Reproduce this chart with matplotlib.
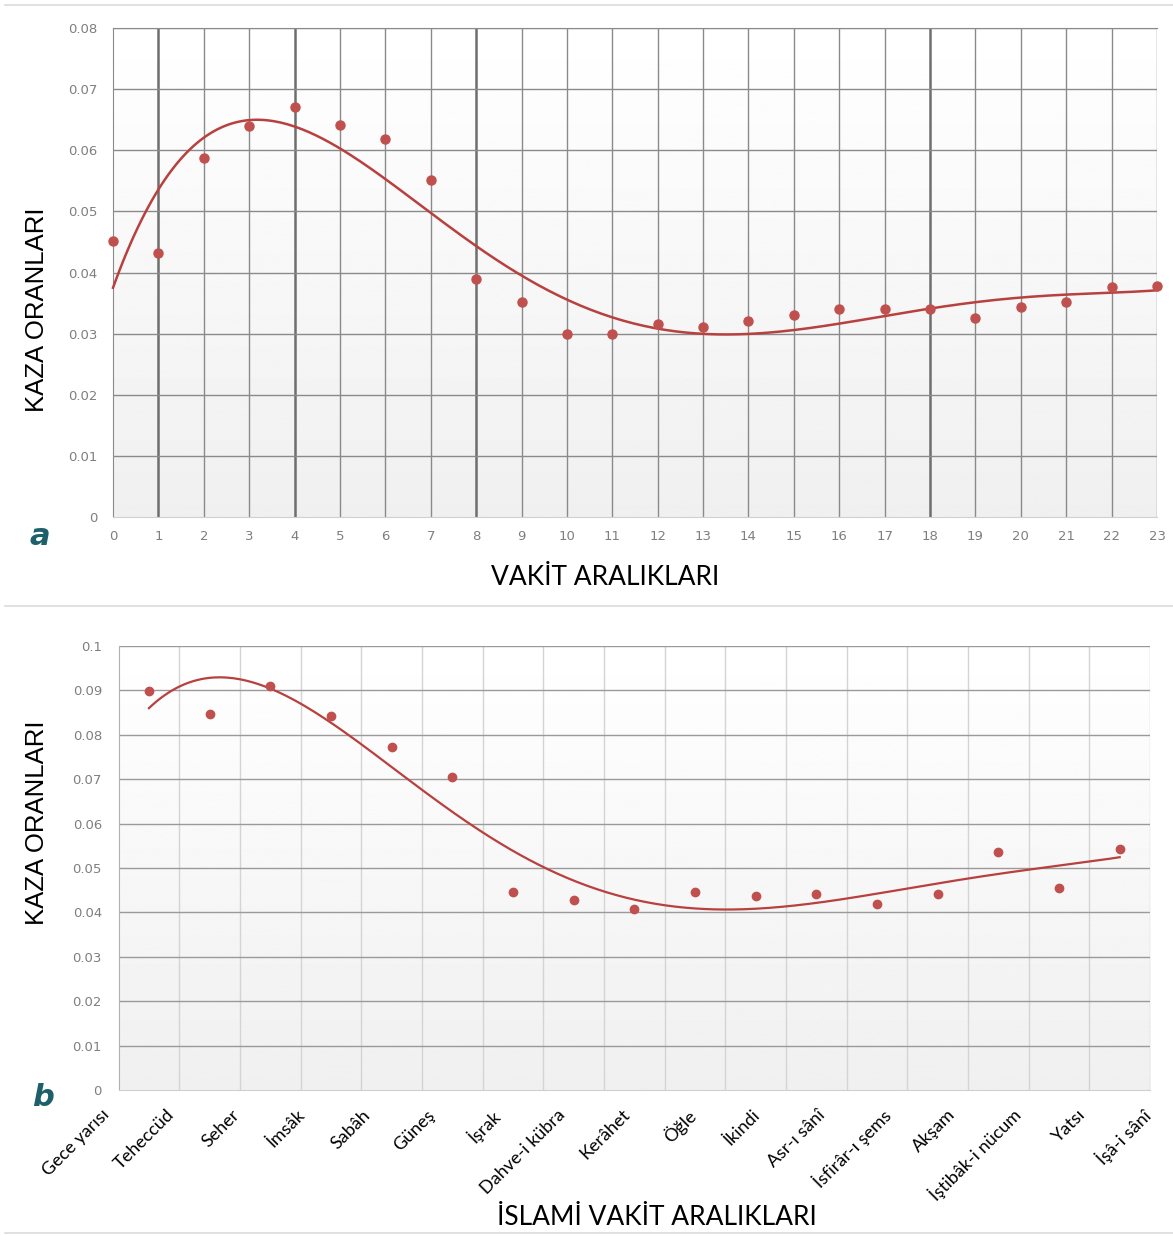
import matplotlib
matplotlib.use("Agg")
import matplotlib.pyplot as plt
import matplotlib.transforms as mtransforms
from matplotlib.lines import Line2D
import numpy as np

# panel a: hourly intervals
hours = list(range(24))
rates_a = [0.0451, 0.0432, 0.0587, 0.0640, 0.0671, 0.0641, 0.0618, 0.0551,
           0.0389, 0.0352, 0.0299, 0.0299, 0.0316, 0.0311, 0.0321, 0.0330,
           0.0340, 0.0340, 0.0340, 0.0326, 0.0344, 0.0352, 0.0377, 0.0378]
yticks_a = [0, 0.01, 0.02, 0.03, 0.04, 0.05, 0.06, 0.07, 0.08]
dark_hours = [1, 4, 8, 18]

# panel b: islamic time intervals
vakit = ['Gece yarısı', 'Teheccüd', 'Seher', 'İmsâk', 'Sabâh', 'Güneş', 'İşrak',
         'Dahve-i kübra', 'Kerâhet', 'Öğle', 'İkindi', 'Asr-ı sânî',
         'İsfirâr-ı şems', 'Akşam', 'İştibâk-i nücum', 'Yatsı', 'İşâ-i sânî']
rates_b = [0.0899, 0.0847, 0.0910, 0.0842, 0.0773, 0.0705, 0.0445, 0.0428,
           0.0407, 0.0445, 0.0438, 0.0441, 0.0420, 0.0441, 0.0535, 0.0456,
           0.0543]
yticks_b = [0, 0.01, 0.02, 0.03, 0.04, 0.05, 0.06, 0.07, 0.08, 0.09, 0.1]

RED = '#c0504d'
TREND = '#b8403e'
TEAL = '#1d5f6a'
TICK_GREY = '#7f7f7f'


def fmt(v):
    s = ('%.2f' % v).rstrip('0').rstrip('.')
    return s


def gradient_bg(ax):
    grad = np.linspace(0.94, 1.0, 256).reshape(-1, 1)
    ax.imshow(grad, extent=[0, 1, 0, 1], transform=ax.transAxes,
              cmap='gray', vmin=0, vmax=1, aspect='auto', zorder=0,
              origin='lower')


def trend(x, y, deg, n=300):
    # polynomial trendline (5th order, like the spreadsheet one)
    c = np.polyfit(x, y, deg)
    xs = np.linspace(min(x), max(x), n)
    return xs, np.polyval(c, xs)


fig = plt.figure(figsize=(11.73, 12.36), dpi=100)

# separators
for yy in [1 - 5 / 1236, 1 - 606 / 1236, 1 - 1233 / 1236]:
    fig.add_artist(Line2D([0.004, 1.0], [yy, yy], transform=fig.transFigure,
                          color='#dcdcdc', lw=1.2))

# ---------------- panel a ----------------
ax1 = fig.add_axes([113 / 1173, 1 - 517 / 1236, 1044 / 1173, 489 / 1236])
gradient_bg(ax1)
ax1.set_xlim(0, 23)
ax1.set_ylim(0, 0.08)
for h in hours:
    if h == 0 or h == 23:
        continue
    if h in dark_hours:
        ax1.axvline(h, color='#6e6e6e', lw=1.8, zorder=1)
    else:
        ax1.axvline(h, color='#8a8a8a', lw=1.0, zorder=1)
for v in yticks_a[1:]:
    ax1.axhline(v, color='#8a8a8a', lw=1.0, zorder=1)
ax1.axvline(23, color='#8a8a8a', lw=1.0, zorder=1)

xs, ys = trend(hours, rates_a, 5)
ax1.plot(xs, ys, color=TREND, lw=1.8, zorder=3, clip_on=False)
ax1.plot(hours, rates_a, 'o', color=RED, ms=6.5, zorder=4, clip_on=False)

ax1.set_xticks(hours)
ax1.set_xticklabels([str(h) for h in hours])
ax1.set_yticks(yticks_a)
ax1.set_yticklabels([fmt(v) for v in yticks_a])
ax1.tick_params(axis='both', length=0, colors=TICK_GREY, labelsize=9.5)
ax1.tick_params(axis='x', pad=9)
ax1.tick_params(axis='y', pad=11)
ax1.spines['right'].set_visible(False)
ax1.spines['left'].set_color('#8a8a8a')
ax1.spines['bottom'].set_color('#d0d0d0')
ax1.spines['top'].set_color('#8a8a8a')

ax1.set_ylabel('KAZA ORANLARI', fontsize=18.5, family='Liberation Sans',
               va='center')
ax1.yaxis.set_label_coords(-0.073, 0.423)
ax1.set_xlabel('VAKİT ARALIKLARI', fontsize=19, family='Lato', va='center')
ax1.xaxis.set_label_coords(0.471, -0.123)
fig.text(40 / 1173, 1 - 537 / 1236, 'a', fontsize=22, fontweight='bold',
         style='italic', color=TEAL, ha='center', va='center',
         family='DejaVu Sans')

# ---------------- panel b ----------------
ax2 = fig.add_axes([118.6 / 1173, 1 - 1090 / 1236, 1031.4 / 1173, 444 / 1236])
gradient_bg(ax2)
n = len(vakit)
pos = np.arange(n)
ax2.set_xlim(-0.5, n - 0.5)
ax2.set_ylim(0, 0.1)
for k in range(1, n + 1):
    ax2.axvline(k - 0.5, color='#d4d4d4', lw=1.0, zorder=1)
for v in yticks_b[1:]:
    ax2.axhline(v, color='#9a9a9a', lw=1.0, zorder=1)

xs, ys = trend(pos, rates_b, 5)
ax2.plot(xs, ys, color=TREND, lw=1.6, zorder=3)
ax2.plot(pos, rates_b, 'o', color=RED, ms=6, zorder=4, clip_on=False)

ax2.set_xticks(pos)
ax2.set_xticklabels(vakit, rotation=45, ha='right', va='center',
                    rotation_mode='anchor', family='Lato', color='black')
ax2.set_yticks(yticks_b)
ax2.set_yticklabels([fmt(v) for v in yticks_b])
ax2.tick_params(axis='both', length=0)
ax2.tick_params(axis='y', colors=TICK_GREY, pad=12, labelsize=9.5)
ax2.tick_params(axis='x', pad=16, labelsize=13)
# labels drift slightly wider than the category spacing
for i, lab in enumerate(ax2.get_xticklabels()):
    dx = (-42 + 4.4 * i) / 100.0
    lab.set_transform(lab.get_transform() +
                      mtransforms.ScaledTranslation(dx, 0, fig.dpi_scale_trans))
for s in ['top', 'right']:
    ax2.spines[s].set_visible(False)
ax2.spines['left'].set_color('#b0b0b0')
ax2.spines['bottom'].set_color('#d0d0d0')

ax2.set_ylabel('KAZA ORANLARI', fontsize=18.5, family='Liberation Sans',
               va='center')
ax2.yaxis.set_label_coords(-0.079, 0.601)
ax2.set_xlabel('İSLAMİ VAKİT ARALIKLARI', fontsize=19, family='Lato',
               va='center')
ax2.xaxis.set_label_coords(0.522, -0.288)
fig.text(43 / 1173, 1 - 1098 / 1236, 'b', fontsize=22, fontweight='bold',
         style='italic', color=TEAL, ha='center', va='center',
         family='DejaVu Sans')

fig.savefig('out.png', dpi=100)
